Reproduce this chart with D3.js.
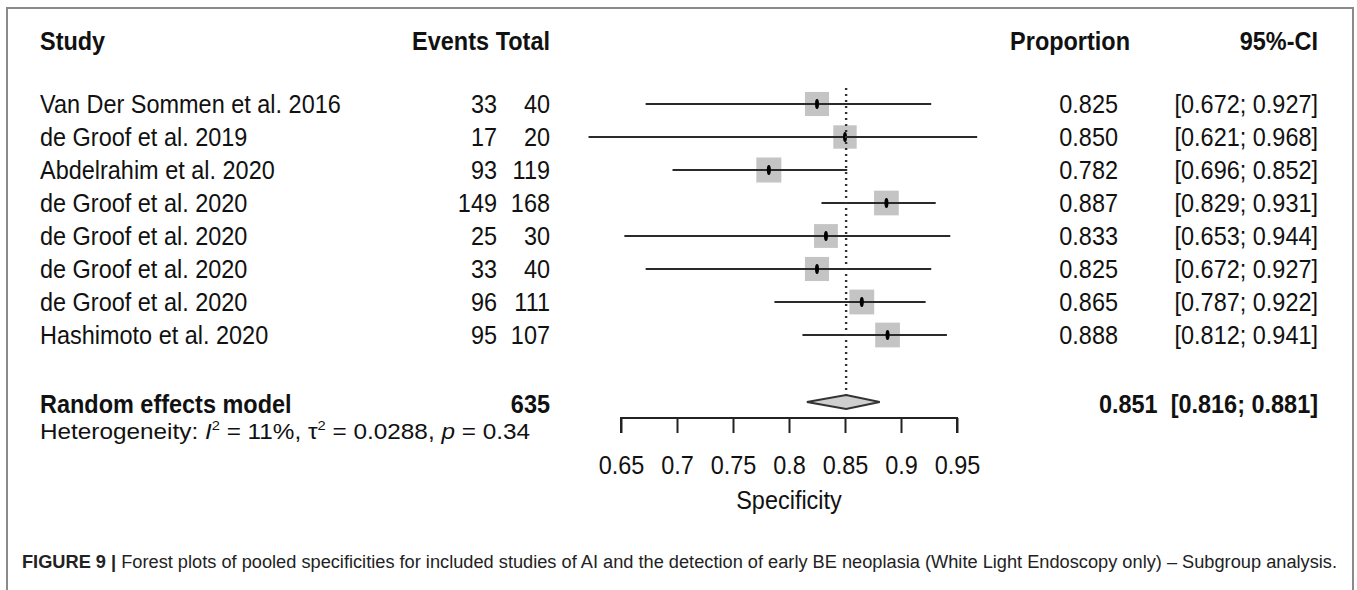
<!DOCTYPE html>
<html>
<head>
<meta charset="utf-8">
<script src="https://cdn.jsdelivr.net/npm/d3@7"></script>
<style>
  body { margin: 0; background: #fff; }
  svg { display: block; font-family: "Liberation Sans", Arial, sans-serif; }
</style>
</head>
<body>
<div id="chart"></div>
<script>
const STUDIES = [
  'Van Der Sommen et al. 2016',
  'de Groof et al. 2019',
  'Abdelrahim et al. 2020',
  'de Groof et al. 2020',
  'de Groof et al. 2020',
  'de Groof et al. 2020',
  'de Groof et al. 2020',
  'Hashimoto et al. 2020'
];
const EVENTS = [33, 17, 93, 149, 25, 33, 96, 95];
const TOTALS = [40, 20, 119, 168, 30, 40, 111, 107];
const PROPS = [0.825, 0.850, 0.782, 0.887, 0.833, 0.825, 0.865, 0.888];
const LOWER = [0.672, 0.621, 0.696, 0.829, 0.653, 0.672, 0.787, 0.812];
const UPPER = [0.927, 0.968, 0.852, 0.931, 0.944, 0.927, 0.922, 0.941];
const WEIGHTS = [11.9, 11.2, 12.8, 12.5, 11.6, 11.9, 12.6, 12.5];
const POOLED = { total: 635, est: 0.851, lo: 0.816, hi: 0.881 };
const TICKS = [0.65, 0.7, 0.75, 0.8, 0.85, 0.9, 0.95];

const W = 1357, H = 590;
const FS = 25.5;   // glyph height
const SX = 0.92;   // the picture is a little squeezed sideways
const ROW_Y0 = 104, ROW_STEP = 33;
const AXIS_Y = 418;
const INK = '#111';

const svg = d3.select('#chart').append('svg')
  .attr('width', W).attr('height', H);

// frame
svg.append('path')
  .attr('d', `M7,${H + 2} V8 H1353 V${H + 2}`)
  .attr('fill', 'none').attr('stroke', '#8a8a8a').attr('stroke-width', 2);

const x = d3.scaleLinear().domain([0.65, 0.95]).range([621, 957]);
const y = d3.scaleLinear().domain([0, 1]).range([ROW_Y0, ROW_Y0 + ROW_STEP]);
const size = d3.scaleSqrt().domain([0, d3.max(WEIGHTS)]).range([0, 25]);
const f3 = d3.format('.3f');

// squeezed text at (px, py)
function label(parent, px, py, txt, anchor = 'start', bold = false) {
  return parent.append('text')
    .attr('transform', `translate(${px},${py}) scale(${SX},1)`)
    .attr('dy', '0.36em')
    .attr('text-anchor', anchor)
    .attr('font-size', FS)
    .attr('font-weight', bold ? 'bold' : null)
    .attr('fill', INK)
    .text(txt);
}

// headers
label(svg, 40, 41, 'Study', 'start', true);
label(svg, 489, 41, 'Events', 'end', true);
label(svg, 550, 41, 'Total', 'end', true);
label(svg, 1130, 41, 'Proportion', 'end', true);
label(svg, 1318, 41, '95%-CI', 'end', true);

// study rows
const rows = svg.append('g')
  .selectAll('g').data(STUDIES).join('g')
  .attr('transform', (d, i) => `translate(0,${y(i)})`);

rows.each(function (d, i) {
  const g = d3.select(this);
  label(g, 40, 0, d);
  label(g, 497, 0, EVENTS[i], 'end');
  label(g, 550, 0, TOTALS[i], 'end');
  label(g, 1118, 0, f3(PROPS[i]), 'end');
  label(g, 1318, 0, `[${f3(LOWER[i])}; ${f3(UPPER[i])}]`, 'end');
});

// reference line
svg.append('line')
  .attr('x1', x(POOLED.est)).attr('x2', x(POOLED.est))
  .attr('y1', 88).attr('y2', 396)
  .attr('stroke', '#333').attr('stroke-width', 2.4)
  .attr('stroke-dasharray', '2,4');

// squares
rows.append('rect')
  .attr('x', (d, i) => x(PROPS[i]) - size(WEIGHTS[i]) / 2)
  .attr('y', (d, i) => -size(WEIGHTS[i]) / 2)
  .attr('width', (d, i) => size(WEIGHTS[i]))
  .attr('height', (d, i) => size(WEIGHTS[i]))
  .attr('fill', '#c4c4c4');

// CI lines
rows.append('line')
  .attr('x1', (d, i) => x(LOWER[i])).attr('x2', (d, i) => x(UPPER[i]))
  .attr('stroke', '#2a2a2a').attr('stroke-width', 2);

// point marks
rows.append('ellipse')
  .attr('cx', (d, i) => x(PROPS[i])).attr('rx', 2).attr('ry', 5)
  .attr('fill', '#000');

// pooled
const py = 404;
label(svg, 40, py, 'Random effects model', 'start', true);
label(svg, 550, py, POOLED.total, 'end', true);
label(svg, 1318, py, `${f3(POOLED.est)}  [${f3(POOLED.lo)}; ${f3(POOLED.hi)}]`, 'end', true)
  .attr('xml:space', 'preserve');

svg.append('path')
  .attr('d', `M${x(POOLED.lo)},${py - 2} L${x(POOLED.est)},${py - 9} L${x(POOLED.hi)},${py - 2} L${x(POOLED.est)},${py + 5} Z`)
  .attr('fill', '#cfcfcf').attr('stroke', '#333').attr('stroke-width', 2);

// heterogeneity
const het = svg.append('text').attr('x', 40).attr('y', 439)
  .attr('font-size', 21.5).attr('fill', INK)
  .attr('textLength', 490).attr('lengthAdjust', 'spacingAndGlyphs');
het.append('tspan').text('Heterogeneity: ');
het.append('tspan').attr('font-style', 'italic').text('I');
het.append('tspan').attr('font-size', 13).attr('dy', -9).text('2');
het.append('tspan').attr('dy', 9).text(' = 11%, τ');
het.append('tspan').attr('font-size', 13).attr('dy', -9).text('2');
het.append('tspan').attr('dy', 9).text(' = 0.0288, ');
het.append('tspan').attr('font-style', 'italic').text('p');
het.append('tspan').text(' = 0.34');

// axis
const axis = svg.append('g')
  .attr('transform', `translate(0,${AXIS_Y})`)
  .call(d3.axisBottom(x).tickValues(TICKS).tickSize(15).tickPadding(23)
    .tickFormat(d => String(d)));
axis.select('.domain').attr('stroke', '#222').attr('stroke-width', 2)
  .attr('d', `M${x(0.65)},15V0H${x(0.95)}V15`);
axis.selectAll('.tick line').attr('stroke', '#222').attr('stroke-width', 2);
axis.selectAll('.tick text')
  .attr('font-size', FS).attr('fill', INK)
  .attr('transform', `scale(${SX},1)`)
  .attr('font-family', '"Liberation Sans", Arial, sans-serif');

label(svg, (x(0.65) + x(0.95)) / 2, 500, 'Specificity', 'middle');

// caption
const cap = svg.append('text').attr('x', 22).attr('y', 568)
  .attr('font-size', 18).attr('fill', '#222')
  .attr('textLength', 1315).attr('lengthAdjust', 'spacingAndGlyphs');
cap.append('tspan').attr('font-weight', 'bold').text('FIGURE 9 | ');
cap.append('tspan').text('Forest plots of pooled specificities for included studies of AI and the detection of early BE neoplasia (White Light Endoscopy only) – Subgroup analysis.');
</script>
</body>
</html>
